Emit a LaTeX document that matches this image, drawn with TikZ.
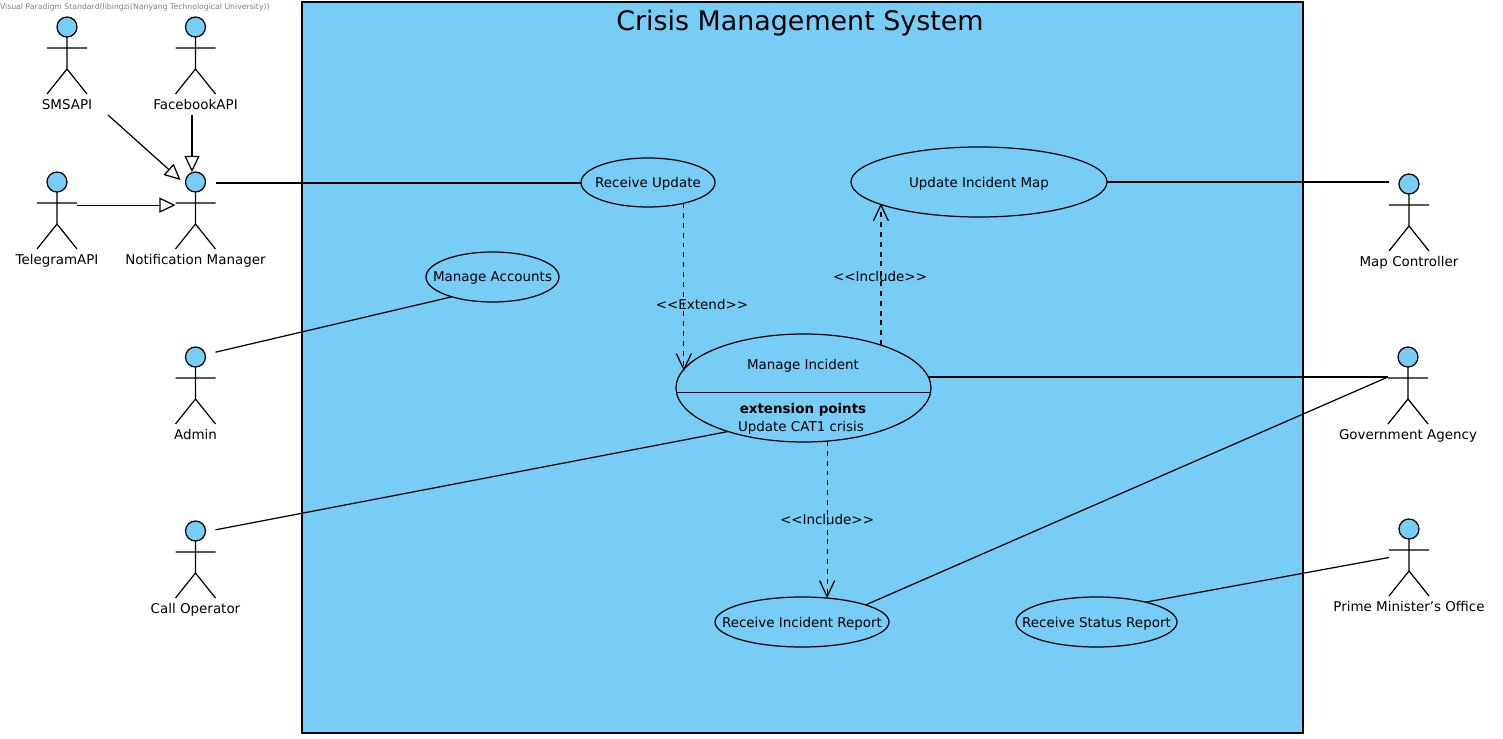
\documentclass[tikz,border=0pt]{standalone}
\usepackage{fontspec}
\setmainfont{DejaVu Sans}
\usetikzlibrary{arrows.meta,shapes.geometric}
\definecolor{sysblue}{HTML}{78CDF6}
\tikzset{
	label font/.style={font=\fontsize{7.65}{9}\selectfont},
	systembox/.style={draw=black,fill=sysblue,line width=0.6pt,minimum width=20.02cm,minimum height=14.62cm},
	usecase/.style={draw=black,ellipse,line width=0.7pt,label font,inner xsep=-1cm,text depth=0pt},
	actorbox/.style={minimum width=0.8cm,minimum height=1.54cm},
	actorlabel/.style={label font,text depth=0pt},
	actorpen/.style={draw=black,line width=0.7pt},
	assoc/.style={draw=black,line width=0.7pt},
	general/.style={assoc,-{Triangle[open,length=0.32cm,width=0.3cm]}},
	depend/.style={assoc,dash pattern=on 2.8pt off 2.8pt,-{Straight Barb[length=0.32cm,width=0.3cm]}}
}
\newcommand{\actor}[4]{
	\begin{scope}[shift={(#2,#3)}]
		\draw [actorpen] (0,-1) -- (0,-4.2) (-2,-2.1) -- (2,-2.1) (-2,-6.7) -- (0,-4.2) -- (2,-6.7);
		\draw [actorpen,fill=sysblue] (0,0) circle (1);
		\node (#1) [actorbox] at (0,-2.85) {};
		\node (#1label) [actorlabel,anchor=base] at (0,-8.25) {#4};
	\end{scope}
}

\begin{document}
\begin{tikzpicture}[scale=0.2]
	\tikzstyle{every node}+=[inner sep=0pt,outer sep=0pt]
	\useasboundingbox (0,0) rectangle (150.3,-73.9);
	\node (watermark) [anchor=west,text=black!50,font=\fontsize{4.4}{5}\selectfont] at (0,-0.75) {Visual Paradigm Standard(libingzi(Nanyang Technological University))};
	\node (system) [systembox] at (80.25,-36.75) {};
	\node (title) [font=\fontsize{15.3}{17}\selectfont] at (80,-2.35) {Crisis Management System};
	% actors
	\actor{smsapi}{6.7}{-2.7}{SMSAPI}
	\actor{facebook}{19.55}{-2.7}{FacebookAPI}
	\actor{telegram}{5.7}{-18.2}{TelegramAPI}
	\actor{notify}{19.55}{-18.2}{Notification Manager}
	\actor{admin}{19.55}{-35.7}{Admin}
	\actor{callop}{19.55}{-53.1}{Call Operator}
	\actor{mapctl}{140.9}{-18.4}{Map Controller}
	\actor{govt}{140.8}{-35.7}{Government Agency}
	\actor{primemin}{140.9}{-52.9}{Prime Minister's Office}
	% use cases
	\node (recupdate) [usecase,minimum width=2.68cm,minimum height=0.98cm] at (64.8,-18.25) {Receive Update};
	\node (updmap) [usecase,minimum width=5.12cm,minimum height=1.4cm] at (97.9,-18.2) {Update Incident Map};
	\node (accounts) [usecase,minimum width=2.66cm,minimum height=1cm] at (49.25,-27.7) {Manage Accounts};
	\node (incident) [usecase,minimum width=5.1cm,minimum height=2.16cm] at (80.35,-38.8) {};
	\node (incidentname) [actorlabel] at (80.3,-36.4) {Manage Incident};
	\node (extpoints) [actorlabel,font=\fontsize{7.65}{9}\selectfont\bfseries] at (80.3,-40.8) {extension points};
	\node (extcat) [actorlabel] at (80.1,-42.6) {Update CAT1 crisis};
	\node (increport) [usecase,minimum width=3.48cm,minimum height=1cm] at (80.2,-62.2) {Receive Incident Report};
	\node (statreport) [usecase,minimum width=3.22cm,minimum height=1cm] at (109.65,-62.2) {Receive Status Report};
	\draw [assoc] (incident.182.3) -- (incident.-2.3);
	% free ends beside the actors
	\coordinate (smsstart) at (10.8,-11.5);
	\coordinate (smstip) at (18.05,-18);
	\coordinate (fbstart) at (19.2,-11.5);
	% generalizations
	\draw [general] (smsstart) -- (smstip);
	\draw [general] (fbstart) -- (fbstart |- notify.north);
	\draw [general] (telegram.15.4) -- (telegram.15.4 -| notify.west);
	% associations
	\draw [assoc] (notify.54.9) -- (notify.54.9 -| recupdate.west);
	\draw [assoc] (updmap.east) -- (updmap.east -| mapctl.west);
	\draw [assoc] (admin.59.9) -- (accounts.206.9);
	\draw [assoc] (callop.56.7) -- (incident.210.2);
	\draw [assoc] (incident.5) -- (incident.5 -| govt.west);
	\draw [assoc] (increport.15) -- (govt.157);
	\draw [assoc] (statreport.22.8) -- (primemin.west);
	% dependencies
	\draw [depend] (recupdate.-30.8) -- (recupdate.-30.8 |- incident.172);
	\node (extendlabel) [actorlabel] at (70.2,-30.4) {<{}<Extend>{}>};
	\draw [depend] (incident.29.6) -- (incident.29.6 |- updmap.192.5);
	\node (includetop) [actorlabel] at (88,-27.6) {<{}<Include>{}>};
	\draw [depend] (incident.-66.1) -- (incident.-66.1 |- increport.43.8);
	\node (includebottom) [actorlabel] at (82.7,-51.9) {<{}<Include>{}>};
\end{tikzpicture}
\end{document}
